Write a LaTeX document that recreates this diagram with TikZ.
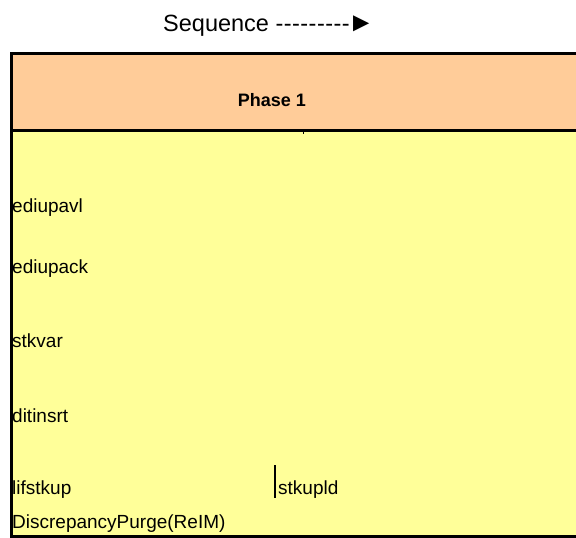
\documentclass[tikz,border=0pt]{standalone}
\usepackage{fontspec}
\setmainfont{Liberation Sans}[Ligatures=TeXOff]
\definecolor{hdr}{HTML}{FFCC99}
\definecolor{bdy}{HTML}{FFFF99}
\begin{document}
\begin{tikzpicture}[x=1pt,y=-1pt,
  lbl/.style={anchor=base west,inner sep=0pt,font=\fontsize{19}{22}\selectfont},
  frame/.style={draw=black,line width=3pt}]
\useasboundingbox (0,0) rectangle (576,538);
\fill[bdy] (11,130) rectangle (590,536);
\fill[hdr] (11,53) rectangle (590,130);
\draw[frame] (590,53) -- (11,53) -- (11,536) -- (590,536);
\draw[frame] (11,130) -- (590,130);
\draw[line width=1.2pt] (303.5,130) -- (303.5,134);
\node[anchor=base west,inner sep=0pt,font=\fontsize{23.5}{26}\selectfont] (title) at (163,31) {Sequence {\addfontfeatures{LetterSpace=2}---------}\kern-2pt\raisebox{-0.5pt}{\fontsize{27}{27}\selectfont ►}};
\node[anchor=base,inner sep=0pt,font=\bfseries\fontsize{18}{20}\selectfont] (phase) at (272,106) {Phase 1};
\node[lbl] (a) at (12,212) {ediupavl};
\node[lbl] (b) at (12,273) {ediupack};
\node[lbl] (c) at (12,347) {stkvar};
\node[lbl] (d) at (12,422) {ditinsrt};
\node[lbl] (e) at (12,494) {lifstkup};
\node[lbl] (f) at (278,494) {stkupld};
\node[lbl] (g) at (12,528) {DiscrepancyPurge(ReIM)};
\draw[line width=1.4pt] (275,465) -- (275,498);
\end{tikzpicture}
\end{document}
